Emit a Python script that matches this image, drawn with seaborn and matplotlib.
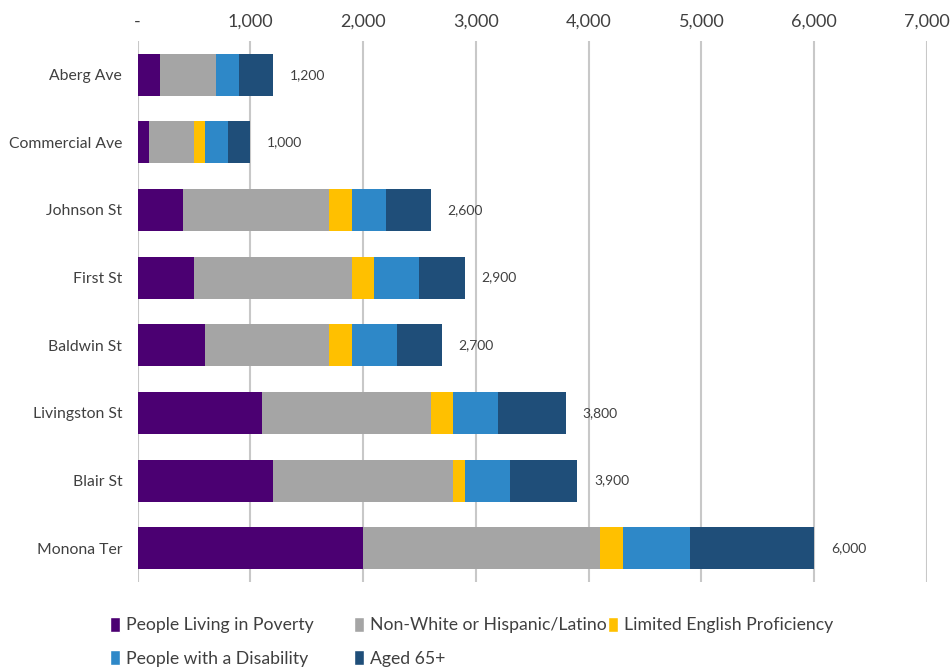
import numpy as np
import pandas as pd
import matplotlib
matplotlib.use("Agg")
import matplotlib.pyplot as plt
from matplotlib.patches import Patch
from matplotlib.ticker import FuncFormatter
import seaborn as sns

# --- DATA ---
streets = ['Aberg Ave', 'Commercial Ave', 'Johnson St', 'First St',
           'Baldwin St', 'Livingston St', 'Blair St', 'Monona Ter']
poverty = [200, 100, 400, 500, 600, 1100, 1200, 2000]
non_white = [500, 400, 1300, 1400, 1100, 1500, 1600, 2100]
limited_english = [0, 100, 200, 200, 200, 200, 100, 200]
disability = [200, 200, 300, 400, 400, 400, 400, 600]
aged_65 = [300, 200, 400, 400, 400, 600, 600, 1100]

series_names = ['People Living in Poverty', 'Non-White or Hispanic/Latino',
                'Limited English Proficiency', 'People with a Disability', 'Aged 65+']
colors = ['#4B0072', '#A5A5A5', '#FFC000', '#2E88C8', '#1F4E79']

df = pd.DataFrame({
    'Street': streets,
    series_names[0]: poverty,
    series_names[1]: non_white,
    series_names[2]: limited_english,
    series_names[3]: disability,
    series_names[4]: aged_65,
})
cum = df[series_names].cumsum(axis=1)
totals = cum[series_names[-1]].values

sns.set_style('white')
plt.rcParams['font.family'] = ['Lato', 'DejaVu Sans']

W, H = 951, 671
fig = plt.figure(figsize=(W / 100, H / 100), dpi=100)
ax = fig.add_axes([0.1446, 0.1326, 0.8302, 0.8065])

# stacked bars: draw cumulative totals from the outermost segment inwards
for name, col in reversed(list(zip(series_names, colors))):
    sns.barplot(x=cum[name].values, y=df['Street'], orient='h', color=col,
                width=0.62, saturation=1, linewidth=0, ax=ax, zorder=3)

for i, tot in enumerate(totals):
    ax.annotate(f'{tot:,}', xy=(tot, i), xytext=(12, 0), textcoords='offset points',
                ha='left', va='center', fontsize=10, color='#404040')

ax.set_xlim(0, 7000)
ax.set_xticks(np.arange(0, 7001, 1000))
ax.xaxis.set_major_formatter(FuncFormatter(lambda v, p: '-' if v == 0 else f'{int(v):,}'))
ax.xaxis.tick_top()
ax.tick_params(axis='x', length=0, labelsize=13, colors='#404040', pad=8)
ax.tick_params(axis='y', length=0, labelsize=11.3, colors='#404040', pad=11)
ax.set_xlabel('')
ax.set_ylabel('')
ax.grid(axis='x', color='#C8C8C8', linewidth=1.5, zorder=0)
ax.set_axisbelow(True)
for s in ax.spines.values():
    s.set_visible(False)

# legend: three fixed-width columns like the original
handles = [Patch(facecolor=c, label=n) for n, c in zip(series_names, colors)]
columns = [([0, 3], 110), ([1, 4], 354), ([2], 608)]
for idx, xpix in columns:
    fig.legend([handles[i] for i in idx], [series_names[i] for i in idx],
               loc='upper left', bbox_to_anchor=(xpix / W, 1 - 617 / H), ncol=1,
               frameon=False, fontsize=12.7, labelcolor='#404040', borderaxespad=0,
               borderpad=0, handlelength=0.55, handleheight=0.9, handletextpad=0.35,
               labelspacing=0.95)

fig.savefig('out.png', dpi=100)
